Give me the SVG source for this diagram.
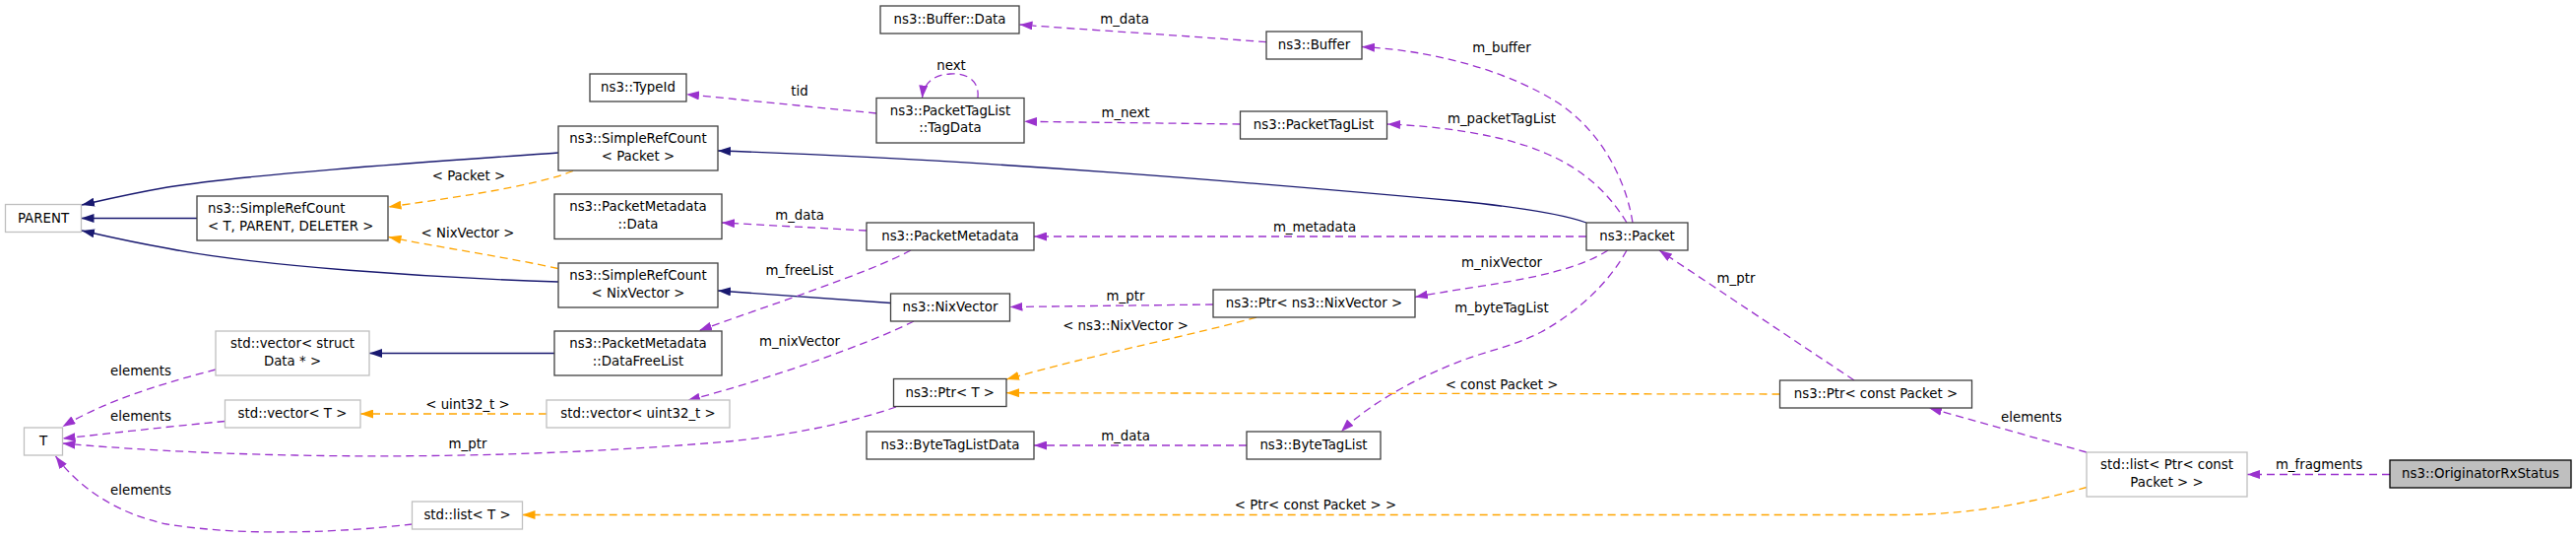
<svg xmlns="http://www.w3.org/2000/svg" width="2616" height="547" viewBox="0 0 2616 547">
<style>
text{font-family:"DejaVu Sans","Liberation Sans",sans-serif;font-size:13.33px;fill:#000}
.node rect{fill:#fff;stroke:#404040;stroke-width:1.3}
.node.gray rect{stroke:#bfbfbf}
.node.cur rect{fill:#bfbfbf;stroke:#000}
.node text,.lbl{text-anchor:middle}
.node text.l{text-anchor:start}
#edges path{fill:none;stroke-width:1.3}
#edges .inh{stroke:#191970;marker-end:url(#ab)}
#edges .use{stroke:#9a32cd;stroke-dasharray:8,5;marker-end:url(#ap)}
#edges .tpl{stroke:#ffa500;stroke-dasharray:8,5;marker-end:url(#ao)}
</style>
<defs>
<marker id="ab" markerUnits="userSpaceOnUse" viewBox="0 0 13 9" markerWidth="13" markerHeight="9" refX="13" refY="4.5" orient="auto"><path d="M0,0 L13,4.5 L0,9 z" fill="#191970"/></marker>
<marker id="ap" markerUnits="userSpaceOnUse" viewBox="0 0 13 9" markerWidth="13" markerHeight="9" refX="13" refY="4.5" orient="auto"><path d="M0,0 L13,4.5 L0,9 z" fill="#9a32cd"/></marker>
<marker id="ao" markerUnits="userSpaceOnUse" viewBox="0 0 13 9" markerWidth="13" markerHeight="9" refX="13" refY="4.5" orient="auto"><path d="M0,0 L13,4.5 L0,9 z" fill="#ffa500"/></marker>
</defs>
<rect width="2616" height="547" fill="#fff"/>

<g id="edges">
<path class="inh" d="M200,221.5 L82.5,221.5"/>
<path class="inh" d="M567,155 C440,164 260,176 170,190 C130,197 105,203 83,208"/>
<path class="inh" d="M567,286 C440,282 260,270 170,252 C130,245 105,239 83,234"/>
<path class="tpl" d="M582,173.5 C540,190 450,202 394.5,210"/>
<text class="lbl" x="476" y="183">&lt; Packet &gt;</text>
<path class="tpl" d="M566.5,272.5 C520,262 440,250 394.5,240.5"/>
<text class="lbl" x="475" y="240.5">&lt; NixVector &gt;</text>
<path class="inh" d="M1611,226 C1585,217 1540,210 1480,204 C1280,186 1000,162 729,153"/>
<path class="inh" d="M904.5,307.5 L729,295"/>
<path class="inh" d="M563,358.5 L375,358.5"/>
<path class="use" d="M890,115 L697,95.7"/>
<text class="lbl" x="812" y="96.5">tid</text>
<path class="use" d="M993,99.5 C995,80 980,74 965,75 C948,76 938,84 936.5,99.5"/>
<text class="lbl" x="966" y="71">next</text>
<path class="use" d="M1259.5,126 L1040,123.3"/>
<text class="lbl" x="1143" y="119">m_next</text>
<path class="use" d="M1286,42.7 C1200,36 1100,30 1035.5,25"/>
<text class="lbl" x="1142" y="24">m_data</text>
<path class="use" d="M1658,226 C1650,175 1620,128 1580,103 C1540,78 1470,52 1383,47.5"/>
<text class="lbl" x="1525" y="53">m_buffer</text>
<path class="use" d="M1652,226 C1630,190 1600,165 1550,148 C1510,135 1460,128 1409,126"/>
<text class="lbl" x="1525" y="124.5">m_packetTagList</text>
<path class="use" d="M1611,240 L1050,240"/>
<text class="lbl" x="1335" y="234.5">m_metadata</text>
<path class="use" d="M1633,254 C1605,272 1560,282 1500,291 C1475,295 1455,298 1437,301.5"/>
<text class="lbl" x="1525" y="270.5">m_nixVector</text>
<path class="use" d="M1652,254 C1635,285 1605,315 1565,337 C1540,350 1515,355 1490,364 C1440,382 1390,410 1362,438"/>
<text class="lbl" x="1525" y="317">m_byteTagList</text>
<path class="use" d="M1883,386 L1685,254"/>
<text class="lbl" x="1763" y="286.5">m_ptr</text>
<path class="use" d="M1232,309 L1025.5,311.5"/>
<text class="lbl" x="1143" y="305">m_ptr</text>
<path class="tpl" d="M1276,322 C1220,338 1110,360 1022,385"/>
<text class="lbl" x="1143" y="335">&lt; ns3::NixVector &gt;</text>
<path class="tpl" d="M1807.5,400 L1022,398.7"/>
<text class="lbl" x="1525" y="394.5">&lt; const Packet &gt;</text>
<path class="use" d="M1266,452 L1050,452"/>
<text class="lbl" x="1143" y="447">m_data</text>
<path class="use" d="M880,234 L733,226"/>
<text class="lbl" x="812" y="223">m_data</text>
<path class="use" d="M925,254 C880,278 780,310 710,335.5"/>
<text class="lbl" x="812" y="278.5">m_freeList</text>
<path class="use" d="M928,326 C880,350 780,385 698,406.5"/>
<text class="lbl" x="812" y="350.5">m_nixVector</text>
<path class="tpl" d="M555,420 L366,420"/>
<text class="lbl" x="475" y="414.5">&lt; uint32_t &gt;</text>
<path class="use" d="M219,375 C170,388 110,405 63.5,433"/>
<text class="lbl" x="143" y="380.5">elements</text>
<path class="use" d="M228.5,427.5 C170,433 110,440 63.5,445"/>
<text class="lbl" x="143" y="427">elements</text>
<path class="use" d="M910,413 C860,430 800,442 740,448 C600,460 450,465 300,462 C200,460 120,455 63.5,450"/>
<text class="lbl" x="475" y="455">m_ptr</text>
<path class="use" d="M418.5,532 C350,540 250,545 170,532 C120,522 80,495 56.5,463"/>
<text class="lbl" x="143" y="502">elements</text>
<path class="tpl" d="M2119,494.5 C2070,508 2010,522 1930,522.5 L530.5,522.5"/>
<text class="lbl" x="1336" y="517">&lt; Ptr&lt; const Packet &gt; &gt;</text>
<path class="use" d="M2119,459 L1959,414"/>
<text class="lbl" x="2063" y="428">elements</text>
<path class="use" d="M2427,481.5 L2282,481.5"/>
<text class="lbl" x="2355" y="476">m_fragments</text>
</g>

<g id="n_parent" class="node gray"><rect x="5.5" y="207.5" width="77" height="28"/><text x="44" y="225.5">PARENT</text></g>
<g id="n_src_tpd" class="node"><rect x="200" y="199" width="194" height="45"/><text class="l" x="211" y="216">ns3::SimpleRefCount</text><text class="l" x="211" y="233.5">&lt; T, PARENT, DELETER &gt;</text></g>
<g id="n_src_packet" class="node"><rect x="567" y="128" width="162" height="45"/><text x="648" y="145">ns3::SimpleRefCount</text><text x="648" y="162.5">&lt; Packet &gt;</text></g>
<g id="n_typeid" class="node"><rect x="599" y="75" width="98" height="28"/><text x="648" y="93">ns3::TypeId</text></g>
<g id="n_pm_data" class="node"><rect x="563" y="197" width="170" height="45.5"/><text x="648" y="214">ns3::PacketMetadata</text><text x="648" y="231.5">::Data</text></g>
<g id="n_src_nix" class="node"><rect x="567" y="267" width="162" height="45"/><text x="648" y="284">ns3::SimpleRefCount</text><text x="648" y="301.5">&lt; NixVector &gt;</text></g>
<g id="n_vec_struct" class="node gray"><rect x="219" y="336" width="156" height="45"/><text x="297" y="353">std::vector&lt; struct</text><text x="297" y="370.5">Data * &gt;</text></g>
<g id="n_freelist" class="node"><rect x="563" y="336" width="170" height="45"/><text x="648" y="353">ns3::PacketMetadata</text><text x="648" y="370.5">::DataFreeList</text></g>
<g id="n_vec_t" class="node gray"><rect x="228.5" y="406" width="137.5" height="28"/><text x="297" y="424">std::vector&lt; T &gt;</text></g>
<g id="n_vec_u32" class="node gray"><rect x="555" y="406" width="186" height="28"/><text x="648" y="424">std::vector&lt; uint32_t &gt;</text></g>
<g id="n_t" class="node gray"><rect x="24.5" y="434" width="39" height="28"/><text x="44" y="452">T</text></g>
<g id="n_list_t" class="node gray"><rect x="418.5" y="509" width="112" height="28"/><text x="474.5" y="527">std::list&lt; T &gt;</text></g>
<g id="n_buffer_data" class="node"><rect x="894" y="6" width="141" height="28"/><text x="964.5" y="24">ns3::Buffer::Data</text></g>
<g id="n_buffer" class="node"><rect x="1286" y="32" width="97" height="28"/><text x="1334.5" y="50">ns3::Buffer</text></g>
<g id="n_tagdata" class="node"><rect x="890" y="99.5" width="150" height="45.5"/><text x="965" y="116.5">ns3::PacketTagList</text><text x="965" y="134">::TagData</text></g>
<g id="n_packettaglist" class="node"><rect x="1259.5" y="113" width="149" height="28"/><text x="1334" y="131">ns3::PacketTagList</text></g>
<g id="n_packetmetadata" class="node"><rect x="880" y="226" width="170" height="28"/><text x="965" y="244">ns3::PacketMetadata</text></g>
<g id="n_packet" class="node"><rect x="1611" y="226" width="103" height="28"/><text x="1662.5" y="244">ns3::Packet</text></g>
<g id="n_nixvector" class="node"><rect x="904.5" y="298" width="121" height="28"/><text x="965" y="316">ns3::NixVector</text></g>
<g id="n_ptr_nix" class="node"><rect x="1232" y="294" width="205" height="28"/><text x="1334.5" y="312">ns3::Ptr&lt; ns3::NixVector &gt;</text></g>
<g id="n_ptr_t" class="node"><rect x="907.5" y="384.5" width="114.5" height="28"/><text x="964.75" y="402.5">ns3::Ptr&lt; T &gt;</text></g>
<g id="n_btldata" class="node"><rect x="880" y="438" width="170" height="28"/><text x="965" y="456">ns3::ByteTagListData</text></g>
<g id="n_btl" class="node"><rect x="1266" y="438" width="136" height="28"/><text x="1334" y="456">ns3::ByteTagList</text></g>
<g id="n_ptr_cpacket" class="node"><rect x="1807.5" y="386" width="195" height="28"/><text x="1905" y="404">ns3::Ptr&lt; const Packet &gt;</text></g>
<g id="n_list_ptr" class="node gray"><rect x="2119" y="459" width="163" height="45"/><text x="2200.5" y="476">std::list&lt; Ptr&lt; const</text><text x="2200.5" y="493.5">Packet &gt; &gt;</text></g>
<g id="n_ors" class="node cur"><rect x="2427" y="467" width="184" height="28"/><text x="2519" y="485">ns3::OriginatorRxStatus</text></g>
</svg>
